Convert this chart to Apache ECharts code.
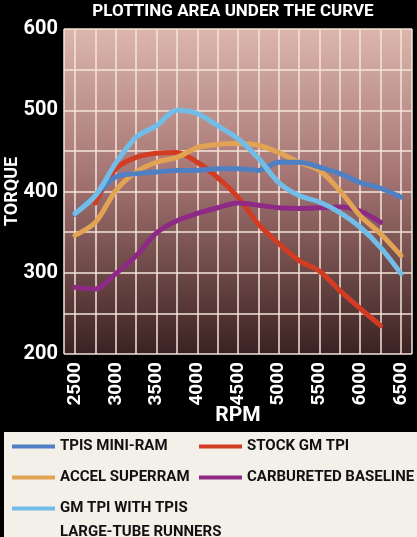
<!DOCTYPE html>
<html>
<head>
<meta charset="utf-8">
<script src="https://cdn.jsdelivr.net/npm/echarts@6/dist/echarts.min.js"></script>
<style>
  html, body { margin: 0; padding: 0; background: #000; }
  #chart { width: 417px; height: 537px; }
</style>
</head>
<body>
<div id="chart"></div>
<script>
// rpm steps (every 250)
var rpm = [2500, 2750, 3000, 3250, 3500, 3750, 4000, 4250, 4500, 4750, 5000, 5250, 5500, 5750, 6000, 6250, 6500];
// torque
var miniRam   = [372, 395, 418, 422, 424, 426, 426, 428, 428, 426, 436, 436, 430, 422, 411, 404, 393];
var superRam  = [346, 362, 401, 424, 436, 442, 454, 458, 459, 457, 448, 436, 426, 401, 370, 348, 321];
var largeTube = [373, 395, 435, 467, 481, 500, 496, 481, 465, 441, 411, 395, 387, 374, 356, 331, 299];
var stockTpi  = [null, 386, 428, 442, 447, 448, 436, 417, 393, 360, 336, 315, 302, 278, 256, 235, null];
var carbBase  = [282, 280, 299, 321, 349, 364, 373, 380, 386, 383, 380, 379, 380, 381, 376, 362, null];

var xLabels = [2500, 3000, 3500, 4000, 4500, 5000, 5500, 6000, 6500];
var yLabels = [200, 300, 400, 500, 600];

var FONT = "Roboto, 'Noto Sans', sans-serif";

function pairs(vals) {
  var out = [];
  for (var i = 0; i < rpm.length; i++) {
    if (vals[i] != null) out.push([rpm[i], vals[i]]);
  }
  return out;
}

var seriesDefs = [
  {name: 'STOCK GM TPI', color: '#d23c22', data: stockTpi},
  {name: 'CARBURETED BASELINE', color: '#8e2a86', data: carbBase},
  {name: 'ACCEL SUPERRAM', color: '#e2a454', data: superRam},
  {name: 'TPIS MINI-RAM', color: '#4f80c4', data: miniRam},
  {name: 'GM TPI WITH TPIS LARGE-TUBE RUNNERS', color: '#72bde8', data: largeTube}
];

var myChart = echarts.init(document.getElementById('chart'));

function legendAt(name, left, top, label) {
  return {
    data: [name],
    left: left,
    top: top,
    padding: 0,
    orient: 'horizontal',
    icon: 'rect',
    itemWidth: 43,
    itemHeight: 4,
    selectedMode: false,
    formatter: label ? function () { return label; } : '{name}',
    textStyle: {color: '#111', fontFamily: FONT, fontWeight: 'bold', fontSize: 15}
  };
}

var option = {
  backgroundColor: '#000',
  animation: false,
  title: {
    text: 'PLOTTING AREA UNDER THE CURVE',
    left: 233,
    textAlign: 'center',
    top: 3,
    padding: 0,
    textStyle: {color: '#fff', fontFamily: FONT, fontWeight: 'bold', fontSize: 17}
  },
  grid: {
    left: 64, top: 29, right: 5, bottom: 183,
    containLabel: false,
    outerBoundsMode: 'none',
    show: true,
    borderWidth: 0,
    backgroundColor: new echarts.graphic.LinearGradient(0, 0, 0, 1, [
      {offset: 0, color: '#dcb6ad'},
      {offset: 0.45, color: '#a57573'},
      {offset: 1, color: '#3b2222'}
    ])
  },
  xAxis: {
    type: 'value',
    min: 2365,
    max: 6635,
    minInterval: 250,
    maxInterval: 250,
    name: 'RPM',
    nameLocation: 'middle',
    nameGap: 51,
    nameMoveOverlap: false,
    nameTextStyle: {color: '#fff', fontFamily: FONT, fontWeight: 'bold', fontSize: 21},
    axisLine: {show: false},
    axisTick: {show: false},
    axisLabel: {
      customValues: xLabels,
      rotate: 90,
      margin: 8,
      color: '#fff',
      fontFamily: FONT,
      fontWeight: 'bold',
      fontSize: 19,
      formatter: function (v) { return String(v); }
    },
    splitLine: {show: true, lineStyle: {color: '#f4e6d8', width: 1.5}}
  },
  yAxis: {
    type: 'value',
    min: 200,
    max: 600,
    interval: 50,
    name: 'TORQUE',
    nameLocation: 'middle',
    nameRotate: 90,
    nameGap: 43,
    nameMoveOverlap: false,
    nameTextStyle: {color: '#fff', fontFamily: FONT, fontWeight: 'bold', fontSize: 18},
    axisLine: {show: false},
    axisTick: {show: false},
    axisLabel: {
      margin: 6,
      color: '#fff',
      fontFamily: FONT,
      fontWeight: 'bold',
      fontSize: 20,
      formatter: function (v) { return yLabels.indexOf(v) >= 0 ? String(v) : ''; }
    },
    splitLine: {show: true, lineStyle: {color: '#f4e6d8', width: 1.5}}
  },
  legend: [
    legendAt('TPIS MINI-RAM', 12, 439),
    legendAt('STOCK GM TPI', 199, 439),
    legendAt('ACCEL SUPERRAM', 12, 470),
    legendAt('CARBURETED BASELINE', 199, 470),
    legendAt('GM TPI WITH TPIS LARGE-TUBE RUNNERS', 12, 501, 'GM TPI WITH TPIS')
  ],
  graphic: [{
    type: 'rect',
    left: 4, top: 432,
    shape: {width: 413, height: 105},
    style: {fill: '#f3efe9'},
    z: -1
  }, {
    type: 'text',
    left: 60, top: 525,
    style: {text: 'LARGE-TUBE RUNNERS', fill: '#111', font: 'bold 15px ' + FONT}
  }],
  series: seriesDefs.map(function (s) {
    return {
      name: s.name,
      type: 'line',
      data: pairs(s.data),
      smooth: 0.3,
      showSymbol: false,
      color: s.color,
      lineStyle: {width: 5, color: s.color, cap: 'round', join: 'round'}
    };
  })
};

myChart.setOption(option);
</script>
</body>
</html>
